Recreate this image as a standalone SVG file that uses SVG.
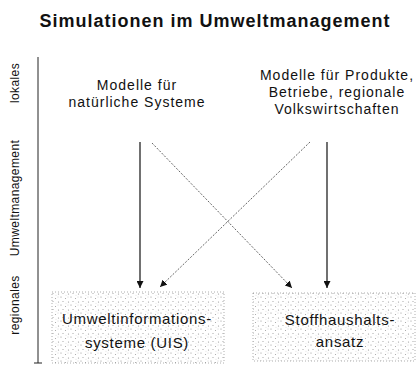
<svg xmlns="http://www.w3.org/2000/svg" width="418" height="367" viewBox="0 0 418 367">
<style>
text{font-family:"Liberation Sans",Arial,sans-serif;fill:#111}
.title{font-size:18px;font-weight:bold;letter-spacing:1px}
.lbl{font-size:14px;letter-spacing:1px}
.box{font-size:15px;letter-spacing:0.7px}
.axis{font-size:12px;letter-spacing:0.4px}
.solid{stroke:#111;stroke-width:1.2;fill:none}
.dash{stroke:#555;stroke-width:0.9;stroke-dasharray:2 1.5;fill:none}
.bx{fill:url(#stip);stroke:#999;stroke-width:0.8;stroke-dasharray:1 2}
</style>
<defs>
<pattern id="stip" width="10" height="8" patternUnits="userSpaceOnUse">
<rect width="10" height="8" fill="#fff"/>
<circle cx="1" cy="1" r="0.6" fill="#949494"/>
<circle cx="5.5" cy="2.5" r="0.55" fill="#a0a0a0"/>
<circle cx="3" cy="5.5" r="0.55" fill="#9c9c9c"/>
<circle cx="8.5" cy="6" r="0.6" fill="#949494"/>
<circle cx="8" cy="1" r="0.45" fill="#b0b0b0"/>
<circle cx="6" cy="7.2" r="0.4" fill="#b5b5b5"/>
</pattern>
<marker id="ah" viewBox="0 0 10 10" refX="10" refY="5" markerWidth="7" markerHeight="7" orient="auto" markerUnits="userSpaceOnUse">
<path d="M0,0 L10,5 L0,10 Z" fill="#111"/>
</marker>
</defs>
<text class="title" x="215" y="27" text-anchor="middle">Simulationen im Umweltmanagement</text>
<g id="axis">
<line x1="38" y1="57" x2="38" y2="363" stroke="#222" stroke-width="1"/>
<line x1="34" y1="363" x2="42" y2="363" stroke="#222" stroke-width="1"/>
<text class="axis" transform="translate(19,83) rotate(-90)" text-anchor="middle">lokales</text>
<text class="axis" transform="translate(19,198) rotate(-90)" text-anchor="middle">Umweltmanagement</text>
<text class="axis" transform="translate(19,305) rotate(-90)" text-anchor="middle">regionales</text>
</g>
<g id="natur">
<text class="lbl" x="137" y="90" text-anchor="middle">Modelle für</text>
<text class="lbl" x="137" y="107" text-anchor="middle">natürliche Systeme</text>
</g>
<g id="produkte">
<text class="lbl" x="337" y="80" text-anchor="middle">Modelle für Produkte,</text>
<text class="lbl" x="337" y="97" text-anchor="middle">Betriebe, regionale</text>
<text class="lbl" x="337" y="114" text-anchor="middle">Volkswirtschaften</text>
</g>
<g id="uis">
<rect class="bx" x="52" y="292" width="172" height="71"/>
<text class="box" x="137" y="324" text-anchor="middle">Umweltinformations-</text>
<text class="box" x="137" y="348" text-anchor="middle">systeme (UIS)</text>
</g>
<g id="stoff">
<rect class="bx" x="253" y="293" width="162" height="68"/>
<text class="box" x="340" y="325" text-anchor="middle">Stoffhaushalts-</text>
<text class="box" x="340" y="347" text-anchor="middle">ansatz</text>
</g>
<g id="connectors">
<line class="solid" x1="140" y1="142" x2="140" y2="288" marker-end="url(#ah)"/>
<line class="dash" x1="152" y1="143" x2="292" y2="288" marker-end="url(#ah)"/>
<line class="dash" x1="310" y1="142" x2="160" y2="287" marker-end="url(#ah)"/>
<line class="solid" x1="327" y1="142" x2="327" y2="288" marker-end="url(#ah)"/>
</g>
</svg>
